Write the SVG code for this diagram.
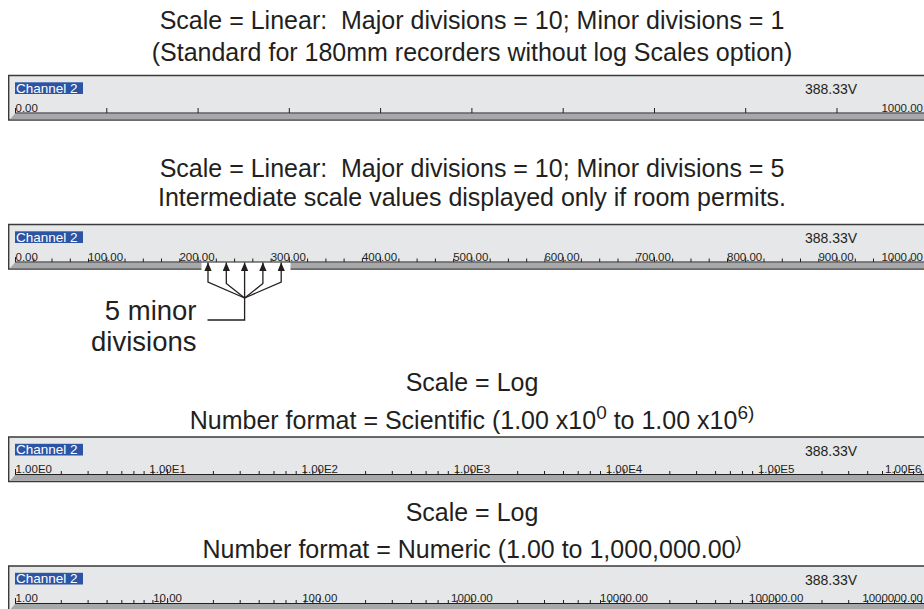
<svg xmlns="http://www.w3.org/2000/svg" width="924" height="609" viewBox="0 0 924 609">
<defs>
<style>
.t{font-family:"Liberation Sans",Arial,sans-serif;font-size:25px;fill:#231f20;text-anchor:middle}
.ch{font-family:"Liberation Sans",Arial,sans-serif;font-size:13.5px;fill:#ffffff}
.val{font-family:"Liberation Sans",Arial,sans-serif;font-size:14px;fill:#231f20}
.sl{font-family:"Liberation Sans",Arial,sans-serif;font-size:11.5px;fill:#231f20;text-anchor:middle}
.s{text-anchor:start}
.e{text-anchor:end}
.frame{fill:#e6e7e8;stroke:#3a3a3a;stroke-width:1.4}
.strip{fill:#a7a8aa}
.base{stroke:#231f20;stroke-width:1.2;fill:none}
.tick{stroke:#231f20;stroke-width:1;fill:none}
.lbl{fill:#2c54a4}
.ann{stroke:#231f20;stroke-width:1.3;fill:none}
.at{font-family:"Liberation Sans",Arial,sans-serif;font-size:27.5px;fill:#231f20;text-anchor:end}
</style>
<marker id="ah" markerUnits="userSpaceOnUse" markerWidth="10" markerHeight="9" refX="8.5" refY="3.7" orient="auto-start-reverse"><path d="M0,0 L8.5,3.7 L0,7.4 z" fill="#231f20"/></marker>
</defs>

<g id="titles">
<text class="t" x="472" y="29">Scale = Linear:&#160; Major divisions = 10; Minor divisions = 1</text>
<text class="t" x="472" y="61">(Standard for 180mm recorders without log Scales option)</text>
<text class="t" x="472" y="177">Scale = Linear:&#160; Major divisions = 10; Minor divisions = 5</text>
<text class="t" x="472" y="206">Intermediate scale values displayed only if room permits.</text>
<text class="t" x="472" y="391">Scale = Log</text>
<text class="t" x="472" y="429">Number format = Scientific (1.00 x10<tspan dy="-10" font-size="19">0</tspan><tspan dy="10"> to 1.00 x10</tspan><tspan dy="-10" font-size="19">6)</tspan></text>
<text class="t" x="472" y="521">Scale = Log</text>
<text class="t" x="472" y="558">Number format = Numeric (1.00 to 1,000,000.00<tspan dy="-9" font-size="18">)</tspan></text>
</g>

<g id="bar1" transform="translate(0,75)">
<path class="frame" d="M926 0.5H8.7V45H926"/>
<polygon class="strip" points="10,44.3 15,38.6 926,38.6 926,44.3"/>
<line class="base" x1="15" y1="38" x2="926" y2="38"/>
<rect class="lbl" x="15" y="7.3" width="68" height="11.7"/>
<text class="ch" x="16" y="17.6">Channel 2</text>
<text class="val" x="805" y="19">388.33V</text>
<path class="tick" d="M15.5 38V33M106.8 38V33M198.1 38V33M289.3 38V33M380.6 38V33M471.9 38V33M563.2 38V33M654.5 38V33M745.7 38V33M837 38V33"/>
<text class="sl s" x="15.5" y="36.7">0.00</text>
<text class="sl e" x="923" y="36.7">1000.00</text>
</g>

<g id="bar2" transform="translate(0,224)">
<path class="frame" d="M926 0.5H8.7V45H926"/>
<polygon class="strip" points="10,44.3 15,38.6 926,38.6 926,44.3"/>
<line class="base" x1="15" y1="38" x2="926" y2="38"/>
<rect class="lbl" x="15" y="7.3" width="68" height="11.7"/>
<text class="ch" x="16" y="17.6">Channel 2</text>
<text class="val" x="805" y="19">388.33V</text>
<path class="tick" d="M15.5 38V33M106.8 38V33M198.1 38V33M289.3 38V33M380.6 38V33M471.9 38V33M563.2 38V33M654.5 38V33M745.7 38V33M837 38V33"/>
<path class="tick" d="M33.8 38V34.5M52 38V34.5M70.3 38V34.5M88.5 38V34.5M125 38V34.5M143.3 38V34.5M161.5 38V34.5M179.8 38V34.5M216.3 38V34.5M234.6 38V34.5M252.8 38V34.5M271.1 38V34.5M307.6 38V34.5M325.9 38V34.5M344.1 38V34.5M362.4 38V34.5M398.9 38V34.5M417.1 38V34.5M435.4 38V34.5M453.6 38V34.5M490.2 38V34.5M508.4 38V34.5M526.7 38V34.5M544.9 38V34.5M581.4 38V34.5M599.7 38V34.5M618 38V34.5M636.2 38V34.5M672.7 38V34.5M691 38V34.5M709.2 38V34.5M727.5 38V34.5M764 38V34.5M782.3 38V34.5M800.5 38V34.5M818.8 38V34.5M855.3 38V34.5M873.5 38V34.5M891.8 38V34.5M910 38V34.5"/>
<text class="sl s" x="15.5" y="36.7">0.00</text>
<text class="sl" x="105.5" y="36.7">100.00</text>
<text class="sl" x="197" y="36.7">200.00</text>
<text class="sl" x="288.3" y="36.7">300.00</text>
<text class="sl" x="379.5" y="36.7">400.00</text>
<text class="sl" x="470.8" y="36.7">500.00</text>
<text class="sl" x="562" y="36.7">600.00</text>
<text class="sl" x="653.3" y="36.7">700.00</text>
<text class="sl" x="744.6" y="36.7">800.00</text>
<text class="sl" x="836" y="36.7">900.00</text>
<text class="sl e" x="923" y="36.7">1000.00</text>
</g>

<g id="bar3" transform="translate(0,436.5)">
<path class="frame" d="M926 0.5H8.7V45H926"/>
<polygon class="strip" points="10,44.3 15,38.6 926,38.6 926,44.3"/>
<line class="base" x1="15" y1="38" x2="926" y2="38"/>
<rect class="lbl" x="15" y="7.3" width="68" height="11.7"/>
<text class="ch" x="16" y="17.6">Channel 2</text>
<text class="val" x="805" y="19">388.33V</text>
<path class="tick" d="M15.5 38V32.5M167.6 38V32.5M319.8 38V32.5M471.9 38V32.5M624 38V32.5M776.2 38V32.5"/>
<path class="tick" d="M61.3 38V34.5M88.1 38V34.5M107.1 38V34.5M121.8 38V34.5M133.9 38V34.5M144.1 38V34.5M152.9 38V34.5M160.7 38V34.5M213.4 38V34.5M240.2 38V34.5M259.2 38V34.5M274 38V34.5M286 38V34.5M296.2 38V34.5M305 38V34.5M312.8 38V34.5M365.6 38V34.5M392.3 38V34.5M411.4 38V34.5M426.1 38V34.5M438.1 38V34.5M448.3 38V34.5M457.2 38V34.5M464.9 38V34.5M517.7 38V34.5M544.5 38V34.5M563.5 38V34.5M578.2 38V34.5M590.3 38V34.5M600.5 38V34.5M609.3 38V34.5M617.1 38V34.5M669.8 38V34.5M696.6 38V34.5M715.6 38V34.5M730.4 38V34.5M742.4 38V34.5M752.6 38V34.5M761.4 38V34.5M769.2 38V34.5M822 38V34.5M848.7 38V34.5M867.7 38V34.5M882.5 38V34.5M894.5 38V34.5M904.7 38V34.5M913.5 38V34.5M921.3 38V34.5"/>
<text class="sl s" x="15.5" y="36.7">1.00E0</text>
<text class="sl" x="167.6" y="36.7">1.00E1</text>
<text class="sl" x="319.8" y="36.7">1.00E2</text>
<text class="sl" x="471.9" y="36.7">1.00E3</text>
<text class="sl" x="624" y="36.7">1.00E4</text>
<text class="sl" x="776.2" y="36.7">1.00E5</text>
<text class="sl s" x="885" y="36.7">1.00E6</text>
</g>

<g id="bar4" transform="translate(0,565.5)">
<path class="frame" d="M926 0.5H8.7V45H926"/>
<polygon class="strip" points="10,44.3 15,38.6 926,38.6 926,44.3"/>
<line class="base" x1="15" y1="38" x2="926" y2="38"/>
<rect class="lbl" x="15" y="7.3" width="68" height="11.7"/>
<text class="ch" x="16" y="17.6">Channel 2</text>
<text class="val" x="805" y="19">388.33V</text>
<path class="tick" d="M15.5 38V32.5M167.6 38V32.5M319.8 38V32.5M471.9 38V32.5M624 38V32.5M776.2 38V32.5"/>
<path class="tick" d="M61.3 38V34.5M88.1 38V34.5M107.1 38V34.5M121.8 38V34.5M133.9 38V34.5M144.1 38V34.5M152.9 38V34.5M160.7 38V34.5M213.4 38V34.5M240.2 38V34.5M259.2 38V34.5M274 38V34.5M286 38V34.5M296.2 38V34.5M305 38V34.5M312.8 38V34.5M365.6 38V34.5M392.3 38V34.5M411.4 38V34.5M426.1 38V34.5M438.1 38V34.5M448.3 38V34.5M457.2 38V34.5M464.9 38V34.5M517.7 38V34.5M544.5 38V34.5M563.5 38V34.5M578.2 38V34.5M590.3 38V34.5M600.5 38V34.5M609.3 38V34.5M617.1 38V34.5M669.8 38V34.5M696.6 38V34.5M715.6 38V34.5M730.4 38V34.5M742.4 38V34.5M752.6 38V34.5M761.4 38V34.5M769.2 38V34.5M822 38V34.5M848.7 38V34.5M867.7 38V34.5M882.5 38V34.5M894.5 38V34.5M904.7 38V34.5M913.5 38V34.5M921.3 38V34.5"/>
<text class="sl s" x="15.5" y="36.7">1.00</text>
<text class="sl" x="167.6" y="36.7">10.00</text>
<text class="sl" x="319.8" y="36.7">100.00</text>
<text class="sl" x="471.9" y="36.7">1000.00</text>
<text class="sl" x="624" y="36.7">10000.00</text>
<text class="sl" x="776.2" y="36.7">100000.00</text>
<text class="sl e" x="923" y="36.7">1000000.00</text>
</g>

<g id="connectors">
<rect x="201.5" y="262.8" width="89" height="8" fill="#ffffff"/>
<path class="ann" marker-start="url(#ah)" d="M208 262.6V282L244.6 298"/>
<path class="ann" marker-start="url(#ah)" d="M226.3 262.6V283.5L244.6 298"/>
<path class="ann" marker-start="url(#ah)" d="M244.6 262.6V320H207.5"/>
<path class="ann" marker-start="url(#ah)" d="M262.9 262.6V283.5L244.6 298"/>
<path class="ann" marker-start="url(#ah)" d="M281.2 262.6V282L244.6 298"/>
</g>

<g id="annotation">
<text class="at" x="196.5" y="320">5 minor</text>
<text class="at" x="196.5" y="351">divisions</text>
</g>
</svg>
